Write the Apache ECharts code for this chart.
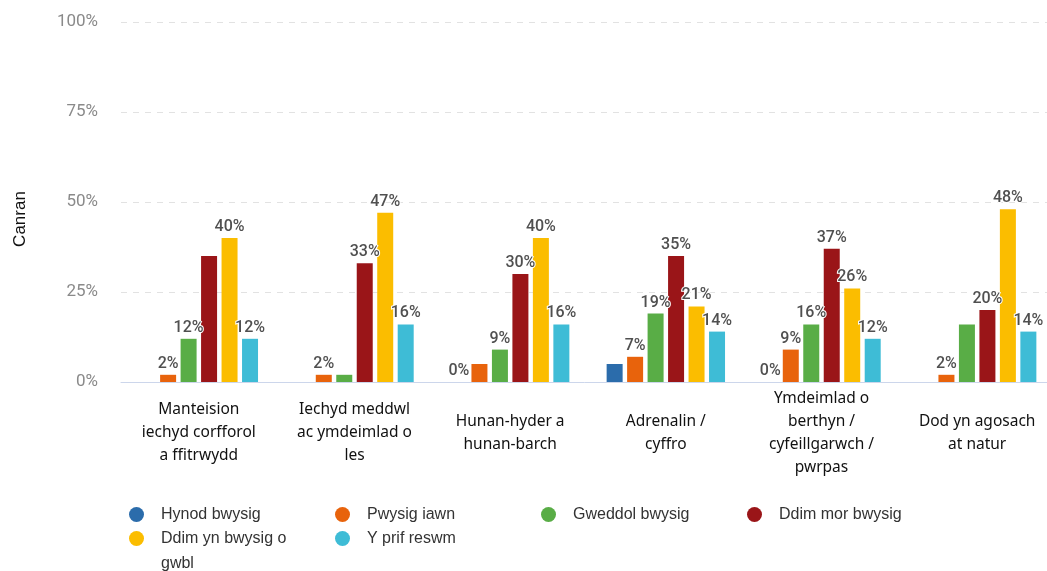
<!DOCTYPE html>
<html>
<head>
<meta charset="utf-8">
<script src="https://cdn.jsdelivr.net/npm/echarts@6/dist/echarts.min.js"></script>
<style>
  html, body { margin: 0; padding: 0; background: #fff; }
  #chart { width: 1047px; height: 571px; }
</style>
</head>
<body>
<div id="chart"></div>
<script>
const categories = [
  'Manteision\niechyd corfforol\na ffitrwydd',
  'Iechyd meddwl\nac ymdeimlad o\nles',
  'Hunan-hyder a\nhunan-barch',
  'Adrenalin /\ncyffro',
  'Ymdeimlad o\nberthyn /\ncyfeillgarwch /\npwrpas',
  'Dod yn agosach\nat natur'
]
const seriesNames = [
  'Hynod bwysig', 'Pwysig iawn', 'Gweddol bwysig',
  'Ddim mor bwysig', 'Ddim yn bwysig o gwbl', 'Y prif reswm'
]
const hynod = [0, 0, 0, 5, 0, 0]
const pwysigIawn = [2, 2, 5, 7, 9, 2]
const gweddol = [12, 2, 9, 19, 16, 16]
const ddimMor = [35, 33, 30, 35, 37, 20]
const ddimYn = [40, 47, 40, 21, 26, 48]
const prifReswm = [12, 16, 16, 14, 12, 14]
// which categories carry a value label in the original
const labelled = [
  [2, 4],
  [0, 1, 3, 4, 5],
  [0, 2, 3, 4],
  [1, 2, 3, 4, 5],
  [0, 1, 2, 3, 4, 5],
  [0, 1, 2, 3, 4, 5]
]
const yTicks = [0, 25, 50, 75, 100]
const colors = ['#2b6cab', '#e8630c', '#59ad46', '#9a1518', '#fbbd00', '#3ebcd6']

const allValues = [hynod, pwysigIawn, gweddol, ddimMor, ddimYn, prifReswm]

const chart = echarts.init(document.getElementById('chart'))

const series = allValues.map((vals, si) => ({
  name: seriesNames[si],
  type: 'bar',
  barWidth: 16,
  barGap: '28%',
  itemStyle: { color: colors[si] },
  label: {
    position: 'top',
    distance: 3,
    formatter: '{c}%',
    fontFamily: 'Roboto',
    fontSize: 16,
    fontWeight: 500,
    color: '#505050',
    textBorderColor: '#fff',
    textBorderWidth: 2
  },
  data: vals.map((v, ci) => ({ value: v, label: { show: labelled[si].includes(ci) } }))
}))

const legendText = {
  fontFamily: 'Liberation Sans',
  fontSize: 16,
  color: '#333',
  width: 161,
  padding: [0, 0, 0, 12],
  lineHeight: 25
}

chart.setOption({
  animation: false,
  color: colors,
  grid: { left: 121, top: 22, width: 934, height: 360, containLabel: false, outerBoundsMode: 'none' },
  legend: [
    {
      data: seriesNames.slice(0, 4),
      left: 124, top: 497,
      icon: 'circle', itemWidth: 15, itemHeight: 15, itemGap: 13,
      selectedMode: false,
      textStyle: legendText
    },
    {
      data: seriesNames.slice(4),
      left: 124, top: 496,
      icon: 'circle', itemWidth: 15, itemHeight: 15, itemGap: 13,
      selectedMode: false,
      formatter: (n) => n === 'Ddim yn bwysig o gwbl' ? '\nDdim yn bwysig o\ngwbl' : n,
      textStyle: legendText
    }
  ],
  xAxis: {
    type: 'category',
    data: categories,
    axisTick: { show: false },
    axisLine: { lineStyle: { color: '#ccd6eb' } },
    axisLabel: {
      interval: 0,
      margin: 51,
      verticalAlign: 'middle',
      fontFamily: 'Noto Sans',
      fontSize: 15.5,
      lineHeight: 23,
      color: '#111'
    }
  },
  yAxis: {
    type: 'value',
    min: yTicks[0],
    max: yTicks[yTicks.length - 1],
    interval: 25,
    name: 'Canran',
    nameLocation: 'middle',
    nameGap: 92,
    nameTextStyle: { fontFamily: 'Liberation Sans', fontSize: 17, color: '#111', padding: [0, 34, 0, 0] },
    axisLabel: {
      margin: 23,
      formatter: '{value}%',
      fontFamily: 'Roboto',
      fontSize: 17,
      color: '#8a8a8a'
    },
    splitLine: { lineStyle: { type: [6, 6], color: '#e2e2e2' } }
  },
  series
})
</script>
</body>
</html>
